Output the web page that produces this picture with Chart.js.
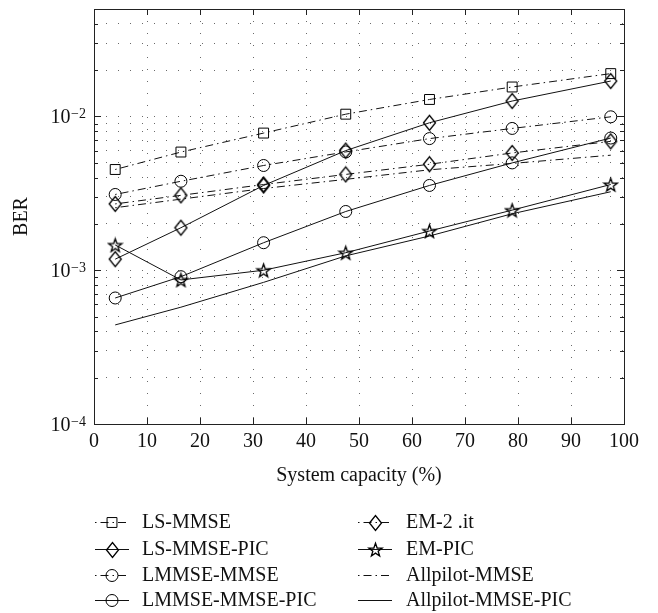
<!DOCTYPE html>
<html><head><meta charset="utf-8">
<script src="https://cdn.jsdelivr.net/npm/chart.js@4/dist/chart.umd.min.js"></script>
<style>html,body{margin:0;padding:0;background:#fff}#wrap{width:658px;height:613px}</style>
</head><body><div id="wrap"><canvas id="c" width="658" height="613"></canvas></div>
<script>
// ---- data ----
const capacity = [4, 16.4, 32, 47.5, 63.3, 78.9, 97.5];
const lsMmse          = [4.52e-3, 5.87e-3, 7.8e-3, 1.035e-2, 1.29e-2, 1.555e-2, 1.9e-2];
const lsMmsePic       = [1.18e-3, 1.89e-3, 3.56e-3, 6.0e-3, 9.1e-3, 1.26e-2, 1.70e-2];
const lmmseMmse       = [3.11e-3, 3.79e-3, 4.8e-3, 5.88e-3, 7.18e-3, 8.36e-3, 9.95e-3];
const lmmseMmsePic    = [6.6e-4, 9.08e-4, 1.51e-3, 2.41e-3, 3.56e-3, 4.99e-3, 7.24e-3];
const em2it           = [2.7e-3, 3.07e-3, 3.61e-3, 4.2e-3, 4.89e-3, 5.79e-3, 6.89e-3];
const emPic           = [1.46e-3, 8.65e-4, 1.0e-3, 1.30e-3, 1.80e-3, 2.46e-3, 3.61e-3];
const allpilotMmse    = [2.55e-3, 2.9e-3, 3.4e-3, 3.9e-3, 4.5e-3, 4.95e-3, 5.6e-3];
const allpilotMmsePic = [4.41e-4, 5.75e-4, 8.34e-4, 1.24e-3, 1.67e-3, 2.33e-3, 3.24e-3];
const seriesNames = ['LS-MMSE','LS-MMSE-PIC','LMMSE-MMSE','LMMSE-MMSE-PIC','EM-2 .it','EM-PIC','Allpilot-MMSE','Allpilot-MMSE-PIC'];
const xTicks = [0,10,20,30,40,50,60,70,80,90,100];
const yTicks = [1e-4,2e-4,3e-4,4e-4,5e-4,6e-4,7e-4,8e-4,9e-4,
                1e-3,2e-3,3e-3,4e-3,5e-3,6e-3,7e-3,8e-3,9e-3,
                1e-2,2e-2,3e-2,4e-2,5e-2];
const yDecades = [1e-4,1e-3,1e-2];
const yDecadeBase = '10';
const yDecadeExp = ['\u22124','\u22123','\u22122'];

// ---- styles ----
const INK = '#111';
const SERIF = "'Liberation Serif', 'DejaVu Serif', serif";
const DASHDOT = [1.5,4,8,4];

function makeMarker(w, h, draw){
  const c = document.createElement('canvas');
  c.width = w; c.height = h;
  const g = c.getContext('2d');
  g.strokeStyle = '#000'; g.lineWidth = 1.3;
  draw(g, w/2, h/2);
  return c;
}
const starMk = makeMarker(17, 17, (g,cx,cy)=>{
  g.beginPath();
  const R = 7, r = 7*0.40;
  for (let i=0;i<10;i++){
    const a = -Math.PI/2 + i*Math.PI/5;
    const rr = i%2===0 ? R : r;
    const px = cx + rr*Math.cos(a), py = cy + 0.8 + rr*Math.sin(a);
    if(i===0) g.moveTo(px,py); else g.lineTo(px,py);
  }
  g.closePath(); g.stroke();
});
const diamondMk = makeMarker(15, 18, (g,cx,cy)=>{
  g.beginPath();
  g.moveTo(cx-6, cy); g.lineTo(cx, cy-7.5); g.lineTo(cx+6, cy); g.lineTo(cx, cy+7.5);
  g.closePath(); g.stroke();
});

const seriesData = [lsMmse, lsMmsePic, lmmseMmse, lmmseMmsePic, em2it, emPic, allpilotMmse, allpilotMmsePic];
const seriesMarker = ['rect',diamondMk,'circle','circle',diamondMk,starMk,'circle','circle'];
const seriesRadius = [7,8,6,6,8,8,0,0];
const seriesDash = [DASHDOT,[],DASHDOT,[],DASHDOT,[],DASHDOT,[]];

const datasets = seriesNames.map((name,i)=>({
  label: name,
  data: capacity.map((c,j)=>({x:c, y:seriesData[i][j]})),
  borderColor: INK,
  borderWidth: 1,
  borderDash: seriesDash[i],
  pointStyle: seriesMarker[i],
  pointRadius: seriesRadius[i],
  pointHoverRadius: seriesRadius[i],
  pointBorderColor: '#000',
  pointBorderWidth: 1,
  pointBackgroundColor: 'rgba(0,0,0,0)',
  fill: false,
  tension: 0
}));

function drawMarker(ctx, style, x, y, r){
  if (r <= 0) return;
  if (style instanceof HTMLCanvasElement){ ctx.drawImage(style, Math.round(x-style.width/2), Math.round(y-style.height/2)); return; }
  ctx.beginPath();
  if (style==='rect'){ const s=Math.SQRT1_2*r; ctx.rect(x-s,y-s,2*s,2*s); }
  else { ctx.arc(x,y,r,0,Math.PI*2); }
  ctx.stroke();
}

const legendPlugin = {
  id:'customLegend',
  afterDraw(chart){
    const ctx = chart.ctx;
    const colSample = [95, 358], colText = [142, 406], rows = [522, 549, 575, 600];
    const sampleLen = 34;
    ctx.save();
    ctx.font = '20px ' + SERIF;
    ctx.textBaseline = 'middle';
    ctx.fillStyle = '#111';
    chart.data.datasets.forEach((ds,i)=>{
      const col = Math.floor(i/4), row = i%4;
      const x0 = colSample[col], y0 = rows[row];
      ctx.strokeStyle = INK; ctx.lineWidth = 1;
      ctx.setLineDash(ds.borderDash);
      ctx.beginPath(); ctx.moveTo(x0, y0+0.5); ctx.lineTo(x0+sampleLen, y0+0.5); ctx.stroke();
      ctx.setLineDash([]);
      ctx.strokeStyle = '#000';
      drawMarker(ctx, ds.pointStyle, x0+sampleLen/2, y0+0.5, ds.pointRadius);
      ctx.fillText(ds.label, colText[col], y0+1);
    });
    ctx.restore();
  }
};

const framePlugin = {
  id:'frame',
  afterDraw(chart){
    const {ctx, chartArea:{left,right,top,bottom}, scales:{x,y}} = chart;
    ctx.save();
    ctx.strokeStyle = '#222'; ctx.lineWidth = 1; ctx.setLineDash([]);
    ctx.strokeRect(Math.round(left)+0.5, Math.round(top)+0.5, Math.round(right-left), Math.round(bottom-top));
    ctx.beginPath();
    xTicks.forEach(v=>{
      const px = Math.round(x.getPixelForValue(v))+0.5;
      ctx.moveTo(px,bottom); ctx.lineTo(px,bottom-6);
      ctx.moveTo(px,top); ctx.lineTo(px,top+6);
    });
    yTicks.forEach(v=>{
      const py = Math.round(y.getPixelForValue(v))+0.5;
      const L = yDecades.includes(v) ? 7 : 4;
      ctx.moveTo(left,py); ctx.lineTo(left+L,py);
      ctx.moveTo(right,py); ctx.lineTo(right-L,py);
    });
    ctx.stroke();
    // y decade labels with superscript exponent
    ctx.fillStyle = '#111';
    ctx.textBaseline = 'alphabetic';
    ctx.textAlign = 'right';
    yDecades.forEach((v,k)=>{
      const py = y.getPixelForValue(v);
      const rx = left - 8;
      ctx.font = '14px ' + SERIF;
      const ew = ctx.measureText(yDecadeExp[k]).width;
      ctx.fillText(yDecadeExp[k], rx, py + 2);
      ctx.font = '20px ' + SERIF;
      ctx.fillText(yDecadeBase, rx - ew - 0.5, py + 7);
    });
    ctx.restore();
  }
};

new Chart(document.getElementById('c'), {
  type: 'line',
  data: { datasets },
  options: {
    responsive: false,
    animation: false,
    devicePixelRatio: 1,
    layout: { padding: { left: 0, right: 34, top: 7, bottom: 123 } },
    plugins: { legend: { display: false }, tooltip: { enabled: false } },
    elements: { line: { borderCapStyle: 'butt' } },
    scales: {
      x: {
        type: 'linear', min: 0, max: 100,
        afterFit(s){ s.height = 66; },
        afterBuildTicks(s){ s.ticks = xTicks.map(v=>({value:v})); },
        grid: { color: '#6a6a6a', lineWidth: 1, drawTicks: false },
        border: { display: false, dash: [1,11] },
        ticks: { autoSkip: false, maxRotation: 0, padding: 6, color: '#111', font: { family: SERIF, size: 20 } },
        title: { display: true, text: 'System capacity (%)', color: '#111', font: { family: SERIF, size: 20 }, padding: { top: 0, bottom: 2 } }
      },
      y: {
        type: 'logarithmic', min: 1e-4, max: 5e-2,
        afterFit(s){ s.width = 94; },
        afterBuildTicks(s){ s.ticks = yTicks.map(v=>({value:v})); },
        grid: { color: '#6a6a6a', lineWidth: 1, drawTicks: false },
        border: { display: false, dash: [1,11] },
        ticks: { display: false, autoSkip: false },
        title: { display: true, text: 'BER', color: '#111', font: { family: SERIF, size: 20 }, padding: { top: 10, bottom: 0 } }
      }
    }
  },
  plugins: [framePlugin, legendPlugin]
});
</script>
</body></html>
